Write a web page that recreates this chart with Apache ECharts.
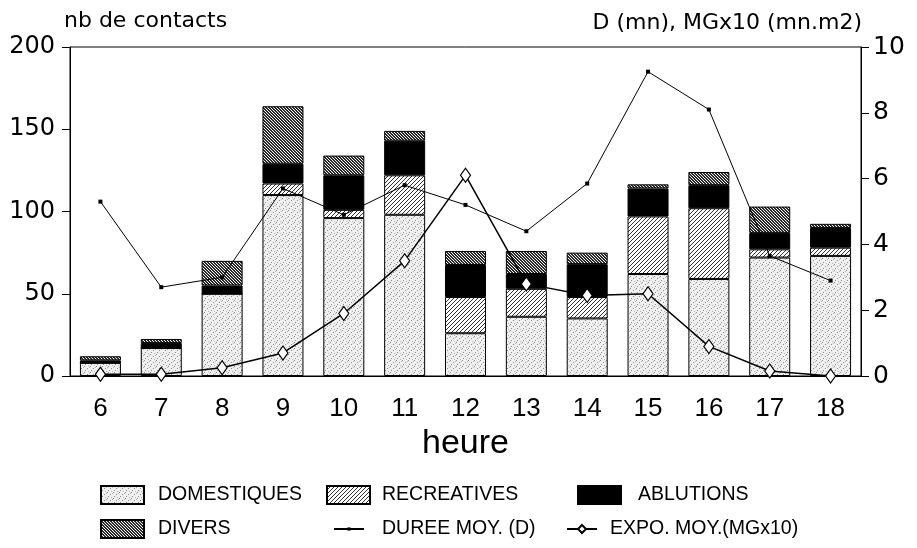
<!DOCTYPE html>
<html>
<head>
<meta charset="utf-8">
<script src="https://cdn.jsdelivr.net/npm/echarts@6/dist/echarts.min.js"></script>
<style>
  html, body { margin: 0; padding: 0; background: #fff; }
  #chart { width: 917px; height: 548px; }
</style>
</head>
<body>
<div id="chart"></div>
<script>
var hours = ['6', '7', '8', '9', '10', '11', '12', '13', '14', '15', '16', '17', '18'];
var domestiques = [8, 17, 50, 110, 96, 98, 26, 36, 35, 62, 59, 72, 73];
var recreatives = [0, 0, 0, 7, 5, 24, 22, 17, 13, 35, 43, 5, 5];
var ablutions = [1.5, 3, 5, 12, 21, 21, 19.5, 9, 20, 17, 14, 10, 12];
var divers = [2.5, 2.5, 15, 35, 12, 6, 8.5, 14, 7, 2.5, 8, 16, 2.5];
var dureeMoy = [5.3, 2.7, 3.0, 5.7, 4.9, 5.8, 5.2, 4.4, 5.85, 9.25, 8.1, 3.65, 2.9];
var expoMoy = [0.05, 0.05, 0.25, 0.7, 1.9, 3.5, 6.1, 2.8, 2.45, 2.5, 0.9, 0.15, 0.0];

(function() {
  var ink = '#000';
  var wide = 'DejaVu Sans';
  var narrow = '"Liberation Sans Narrow", "Liberation Sans", sans-serif';
  var plain = '"Liberation Sans", Arial, sans-serif';

  function pattern(size, bg, draw) {
    var c = document.createElement('canvas');
    c.width = size; c.height = size;
    var ctx = c.getContext('2d');
    ctx.fillStyle = bg;
    ctx.fillRect(0, 0, size, size);
    draw(ctx, size);
    return { image: c, repeat: 'repeat' };
  }

  // stippled light grey
  var domFill = pattern(6, '#f0f0f0', function(ctx) {
    ctx.fillStyle = '#8c8c8c';
    ctx.fillRect(0, 0, 1, 1);
    ctx.fillRect(3, 2, 1, 1);
    ctx.fillRect(1, 4, 1, 1);
    ctx.fillStyle = '#b5b5b5';
    ctx.fillRect(4, 5, 1, 1);
    ctx.fillRect(5, 1, 1, 1);
  });
  // "////" hatch
  var recFill = pattern(4, '#ffffff', function(ctx, s) {
    ctx.fillStyle = '#333';
    for (var i = 0; i < s; i++) ctx.fillRect(i, s - 1 - i, 1, 1);
  });
  // dense "\\\\" hatch
  var divFill = pattern(3, '#f4f4f4', function(ctx, s) {
    ctx.fillStyle = '#2a2a2a';
    for (var i = 0; i < s; i++) {
      ctx.fillRect(i, i, 1, 1);
      ctx.fillRect(i, (i + 1) % s, 1, 1);
    }
  });

  function barSeries(name, data, fill) {
    return {
      name: name,
      type: 'bar',
      stack: 'contacts',
      barWidth: 41,
      data: data,
      itemStyle: { color: fill, borderColor: ink, borderWidth: 1 }
    };
  }

  function legendItem(name, left, top, width, height, gap, icon) {
    var item = {
      data: [name],
      left: left,
      top: top,
      padding: 0,
      itemWidth: width,
      itemHeight: height,
      selectedMode: false,
      textStyle: { color: ink, fontSize: 19.5, fontFamily: plain, padding: [0, 0, 0, gap] }
    };
    if (icon) item.icon = icon;
    return item;
  }

  var chart = echarts.init(document.getElementById('chart'));
  chart.setOption({
    animation: false,
    backgroundColor: '#fff',
    grid: {
      left: 70, right: 56, top: 47, bottom: 172,
      show: true, borderColor: ink, borderWidth: 1, backgroundColor: 'transparent'
    },
    legend: [
      legendItem('DOMESTIQUES', 100, 485, 43, 18, 9, 'rect'),
      legendItem('RECREATIVES', 326, 485, 43, 18, 7, 'rect'),
      legendItem('ABLUTIONS', 577, 485, 43, 18, 12, 'rect'),
      legendItem('DIVERS', 100, 519, 43, 18, 9, 'rect'),
      legendItem('DUREE MOY. (D)', 333, 519, 30, 4, 13),
      legendItem('EXPO. MOY.(MGx10)', 566, 519, 30, 10, 8)
    ],
    graphic: [
      { type: 'text', left: 64, top: 10,
        style: { text: 'nb de contacts', fill: ink, font: '22px "DejaVu Sans"' } },
      { type: 'text', right: 55, top: 12,
        style: { text: 'D (mn), MGx10 (mn.m2)', fill: ink, font: '22px "DejaVu Sans"' } }
    ],
    xAxis: {
      type: 'category',
      data: hours,
      boundaryGap: true,
      axisLine: { lineStyle: { color: ink, width: 1 } },
      axisTick: { alignWithLabel: true, length: 10, lineStyle: { color: ink } },
      axisLabel: { margin: 20, color: ink, fontSize: 26, fontFamily: narrow },
      name: 'heure',
      nameLocation: 'middle',
      nameGap: 51,
      nameTextStyle: { color: ink, fontSize: 34, fontFamily: narrow, verticalAlign: 'top' }
    },
    yAxis: [{
      type: 'value',
      position: 'left',
      min: 0, max: 200, interval: 50,
      axisLine: { show: true, lineStyle: { color: ink, width: 1 } },
      axisTick: { show: true, length: 8, lineStyle: { color: ink } },
      splitLine: { show: false },
      axisLabel: { margin: 15, color: ink, fontSize: 24, fontFamily: wide }
    }, {
      type: 'value',
      position: 'right',
      min: 0, max: 10, interval: 2,
      axisLine: { show: true, lineStyle: { color: ink, width: 1 } },
      axisTick: { show: true, length: 8, lineStyle: { color: ink } },
      splitLine: { show: false },
      axisLabel: { margin: 12, color: ink, fontSize: 25, fontFamily: wide }
    }],
    series: [
      barSeries('DOMESTIQUES', domestiques, domFill),
      barSeries('RECREATIVES', recreatives, recFill),
      barSeries('ABLUTIONS', ablutions, ink),
      barSeries('DIVERS', divers, divFill),
      {
        name: 'DUREE MOY. (D)',
        type: 'line',
        yAxisIndex: 1,
        data: dureeMoy,
        symbol: 'rect',
        symbolSize: 4,
        lineStyle: { color: ink, width: 1 },
        itemStyle: { color: ink }
      },
      {
        name: 'EXPO. MOY.(MGx10)',
        type: 'line',
        yAxisIndex: 1,
        data: expoMoy,
        symbol: 'diamond',
        symbolSize: [10, 14],
        lineStyle: { color: ink, width: 1.5 },
        itemStyle: { color: '#fff', borderColor: ink, borderWidth: 1.2 }
      }
    ]
  });
  window.addEventListener('resize', function() { chart.resize(); });
})();
</script>
</body>
</html>
